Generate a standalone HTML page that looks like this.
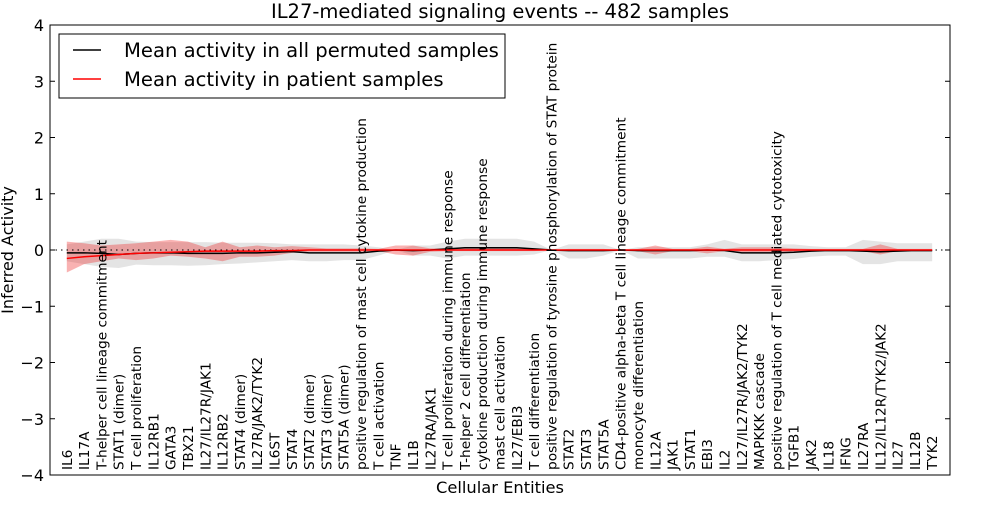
<!DOCTYPE html>
<html><head><meta charset="utf-8"><style>
body{margin:0;background:#fff;font-family:"Liberation Sans","DejaVu Sans",sans-serif}
svg text{font-family:"DejaVu Sans","Liberation Sans",sans-serif}
</style></head><body>
<svg id="chart" width="1000" height="500">
<text x="500" y="18" text-anchor="middle" font-size="19.5">IL27-mediated signaling events -- 482 samples</text>
<g id="bands"></g>
<g id="lines"></g>
<g id="axes"></g>
<rect x="50" y="25" width="900" height="450" fill="none" stroke="#000" stroke-width="1"/>
<text x="500" y="493" text-anchor="middle" font-size="16.3">Cellular Entities</text>
<text transform="translate(13,250) rotate(-90)" text-anchor="middle" font-size="16">Inferred Activity</text>
<g>
<rect x="59" y="34" width="446" height="64" fill="#fff" stroke="#000"/>
<line x1="73" y1="50" x2="101" y2="50" stroke="#000" stroke-width="1.5"/>
<text x="124" y="57" font-size="19.6">Mean activity in all permuted samples</text>
<line x1="73" y1="79" x2="101" y2="79" stroke="red" stroke-width="1.5"/>
<text x="124" y="86" font-size="19.6">Mean activity in patient samples</text>
</g>
</svg>
<script>
const categories=["IL6","IL17A","T-helper cell lineage commitment","STAT1 (dimer)","T cell proliferation","IL12RB1","GATA3","TBX21","IL27/IL27R/JAK1","IL12RB2","STAT4 (dimer)","IL27R/JAK2/TYK2","IL6ST","STAT4","STAT2 (dimer)","STAT3 (dimer)","STAT5A (dimer)","positive regulation of mast cell cytokine production","T cell activation","TNF","IL1B","IL27RA/JAK1","T cell proliferation during immune response","T-helper 2 cell differentiation","cytokine production during immune response","mast cell activation","IL27/EBI3","T cell differentiation","positive regulation of tyrosine phosphorylation of STAT protein","STAT2","STAT3","STAT5A","CD4-positive alpha-beta T cell lineage commitment","monocyte differentiation","IL12A","JAK1","STAT1","EBI3","IL2","IL27/IL27R/JAK2/TYK2","MAPKKK cascade","positive regulation of T cell mediated cytotoxicity","TGFB1","JAK2","IL18","IFNG","IL27RA","IL12/IL12R/TYK2/JAK2","IL27","IL12B","TYK2"];
const permMean=[-0.05,-0.05,-0.06,-0.08,-0.06,-0.05,-0.05,-0.06,-0.06,-0.06,-0.05,-0.05,-0.04,-0.03,-0.05,-0.05,-0.05,-0.05,-0.02,0,-0.01,0,0.02,0.04,0.04,0.04,0.04,0.02,0,-0.01,-0.01,-0.01,0,-0.01,-0.01,-0.01,-0.01,0,-0.01,-0.05,-0.05,-0.05,-0.04,-0.02,-0.01,-0.01,-0.02,-0.03,-0.02,-0.01,-0.01];
const permLow=[-0.2,-0.25,-0.3,-0.32,-0.26,-0.27,-0.27,-0.28,-0.27,-0.25,-0.24,-0.22,-0.2,-0.18,-0.2,-0.2,-0.18,-0.18,-0.1,0,-0.1,-0.1,-0.15,-0.1,-0.1,-0.1,-0.1,-0.08,0,-0.15,-0.15,-0.1,0,-0.15,-0.15,-0.15,-0.15,-0.12,-0.12,-0.2,-0.2,-0.18,-0.16,-0.12,-0.1,-0.1,-0.25,-0.25,-0.2,-0.2,-0.2];
const permHigh=[0.1,0.15,0.2,0.2,0.15,0.14,0.14,0.14,0.14,0.13,0.13,0.13,0.12,0.1,0.1,0.1,0.1,0.08,0.05,0,0.08,0.08,0.15,0.2,0.2,0.2,0.2,0.15,0,0.1,0.1,0.1,0,0.05,0.05,0.05,0.05,0.1,0.18,0.1,0.1,0.1,0.1,0.07,0.05,0.05,0.18,0.15,0.12,0.12,0.12];
const patMean=[-0.15,-0.12,-0.1,-0.08,-0.06,-0.05,-0.04,-0.03,-0.02,-0.02,-0.02,-0.02,-0.01,-0.01,0,0,0,0,0,0,0,0,0,0,0,0,0,0,0,0,0,0,0,0,0,0,0,0,0,0,0,0,0,0,0,0,0,0,0,0,0];
const patLow=[-0.4,-0.25,-0.2,-0.15,-0.18,-0.15,-0.1,-0.12,-0.15,-0.2,-0.12,-0.12,-0.1,-0.05,-0.03,-0.03,-0.03,-0.03,-0.02,-0.08,-0.1,-0.03,-0.02,-0.02,-0.02,-0.02,-0.02,-0.02,0,-0.02,-0.02,-0.02,0,-0.02,-0.08,-0.02,-0.02,-0.06,-0.02,-0.05,-0.05,-0.05,-0.03,-0.02,-0.02,-0.02,-0.02,-0.08,-0.02,-0.02,-0.02];
const patHigh=[0.15,0.12,0.08,0.1,0.12,0.15,0.18,0.15,0.05,0.15,0.05,0.08,0.05,0.07,0.05,0.03,0.03,0.03,0.02,0.08,0.08,0.03,0.03,0.03,0.03,0.03,0.03,0.02,0,0.02,0.02,0.02,0,0.02,0.08,0.02,0.02,0.06,0.02,0.05,0.05,0.05,0.03,0.02,0.02,0.02,0.02,0.1,0.02,0.02,0.02];
const yTicks=[-4,-3,-2,-1,0,1,2,3,4];

const NS="http://www.w3.org/2000/svg";
const X0=50,X1=950,Y0=25,Y1=475;
function xs(i){return X0+(i+1)/(categories.length+1)*(X1-X0)-0.5;}
function ys(v){return Y1-(v+4)/8*(Y1-Y0);}
function mk(t,a,p){const e=document.createElementNS(NS,t);for(const k in a)e.setAttribute(k,a[k]);p.appendChild(e);return e;}
const bands=document.getElementById('bands'),lines=document.getElementById('lines'),axes=document.getElementById('axes');
function band(lo,hi,fill,op){let d='';hi.forEach((v,i)=>d+=(i?'L':'M')+xs(i)+','+ys(v));for(let i=lo.length-1;i>=0;i--)d+='L'+xs(i)+','+ys(lo[i]);d+='Z';const p=mk('path',{d:d,fill:fill,'fill-opacity':op},bands);return p;}
function line(v,c){return mk('polyline',{points:v.map((y,i)=>xs(i)+','+ys(y)).join(' '),fill:'none',stroke:c,'stroke-width':1.5},lines);}
const pb=band(permLow,permHigh,'#bbbbbb',0.4);


const rb=band(patLow,patHigh,'#ee2222',0.35);


const zl=mk('line',{x1:X0,x2:X1,y1:ys(0),y2:ys(0),stroke:'#000','stroke-dasharray':'1.5,4'},lines);


const pl=line(permMean,'#000');


const rl=line(patMean,'red');


yTicks.forEach(v=>{
 const t=mk('line',{x1:X0,x2:X0+5,y1:ys(v),y2:ys(v),stroke:'#000'},axes);
 
 
 mk('line',{x1:X1-5,x2:X1,y1:ys(v),y2:ys(v),stroke:'#000'},axes);
 const l=mk('text',{x:X0-6,y:ys(v)+6,'text-anchor':'end','font-size':16},axes);
 l.textContent=(v<0?'\u2212'+(-v):v);
 
 
});
categories.forEach((c,i)=>{
 const l=mk('text',{transform:'translate('+(xs(i)+5)+',470) rotate(-90)','font-size':13.7},axes);
 l.textContent=c;
 
 
});
</script>
</body></html>
